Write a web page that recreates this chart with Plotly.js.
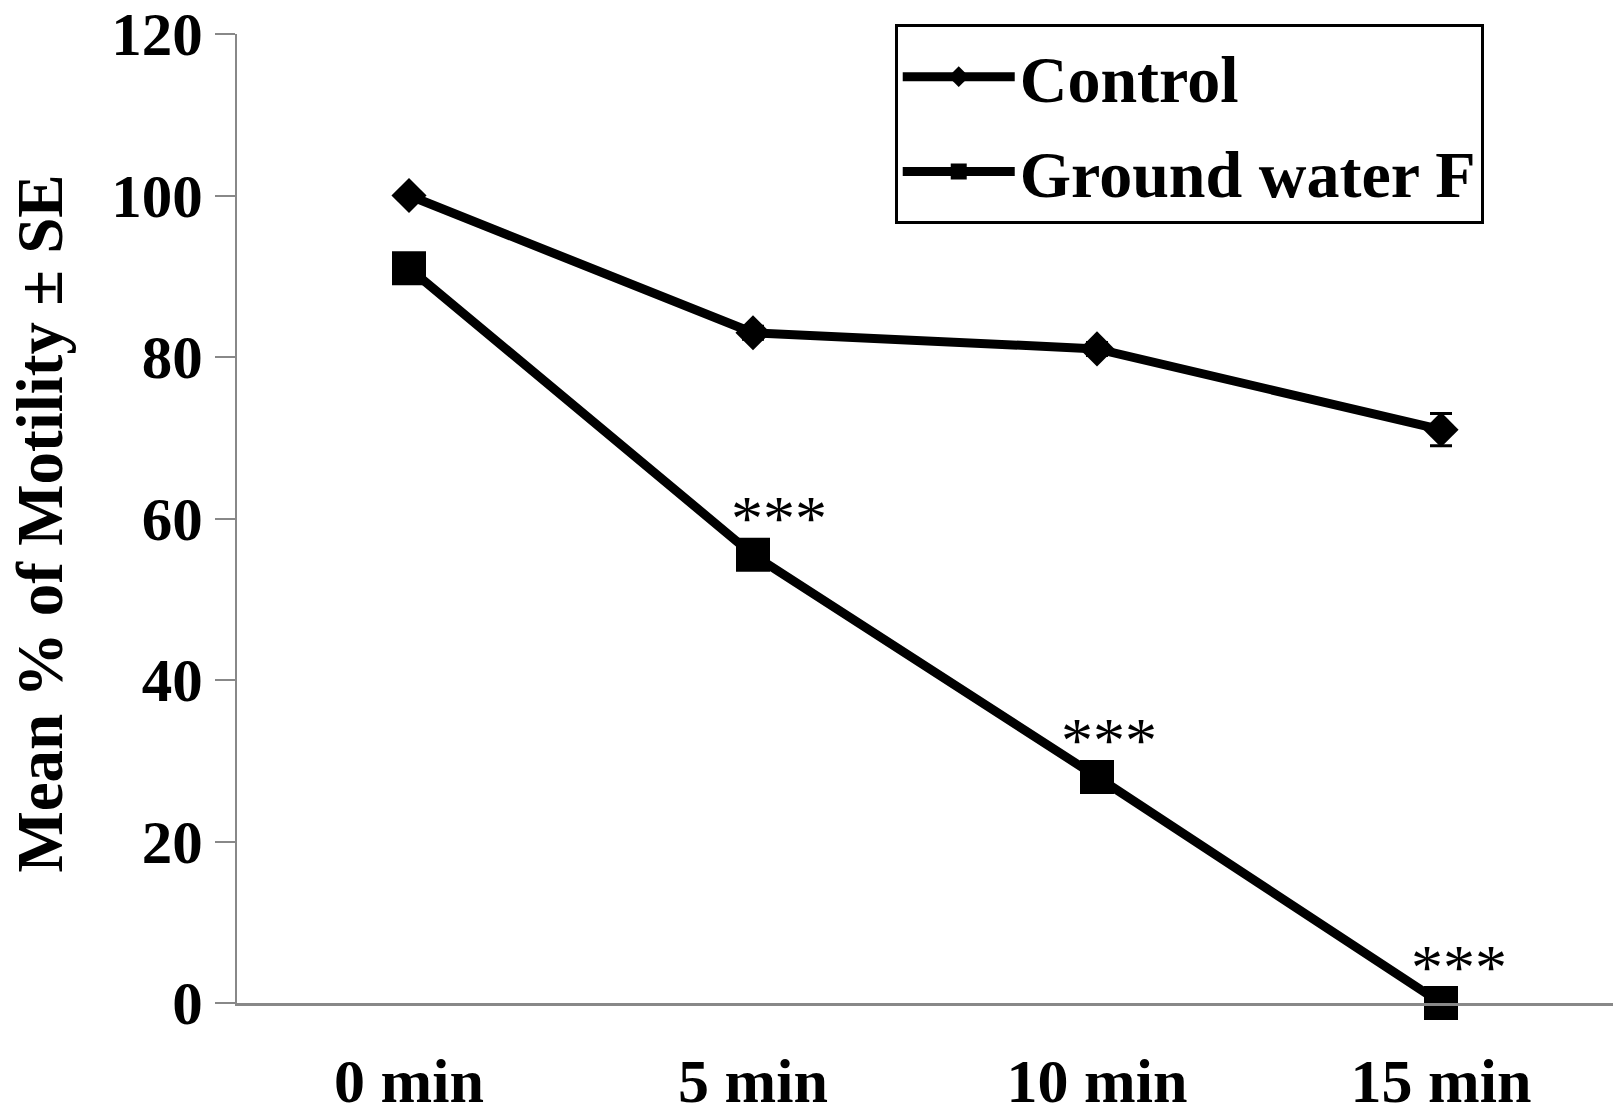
<!DOCTYPE html>
<html>
<head>
<meta charset="utf-8">
<script src="https://cdn.plot.ly/plotly-3.0.1.min.js"></script>
<style>
  html, body { margin: 0; padding: 0; background: #fff; }
  #chart { width: 1620px; height: 1114px; }
</style>
</head>
<body>
<div id="chart"></div>
<script>
// Sperm motility over time, control vs ground water F

const timePoints = ['0 min', '5 min', '10 min', '15 min'];
const controlMean = [100, 83, 81, 71];
const controlErr = [0.5, 0.8, 0.8, 2];
const groundMean = [91, 55.5, 28, 0];
const groundErr = [0.8, 0.8, 0.8, 0];
const groundSig = ['', '***', '***', '***'];
const yTicks = [0, 20, 40, 60, 80, 100, 120];

const serif = 'Liberation Serif, Times New Roman, serif';

const traces = [
    {
        x: timePoints,
        y: controlMean,
        name: 'Control',
        legendgroup: 'control',
        type: 'scatter',
        mode: 'lines+markers',
        line: { color: '#000', width: 9 },
        marker: { symbol: 'diamond', size: 27, color: '#000' },
        error_y: { type: 'data', array: controlErr, visible: true, color: '#000', thickness: 3, width: 11 },
        cliponaxis: false
    },
    {
        x: timePoints,
        y: groundMean,
        name: 'Ground water F',
        legendgroup: 'ground',
        type: 'scatter',
        mode: 'lines+markers',
        line: { color: '#000', width: 9 },
        marker: { symbol: 'square', size: 34, color: '#000' },
        error_y: { type: 'data', array: groundErr, visible: true, color: '#000', thickness: 3, width: 11 },
        cliponaxis: false
    }
];

// stars sit a little above and right of each square
const starShift = [0, 26, 12, 18];
const annotations = [];
groundSig.forEach((s, i) => {
    if (!s) return;
    annotations.push({
        x: timePoints[i],
        y: groundMean[i],
        text: s,
        showarrow: false,
        xshift: starShift[i],
        yshift: 36,
        font: { family: serif, size: 64, color: '#000' }
    });
});

// y title as an annotation so it can sit close to the left edge
annotations.push({
    xref: 'paper',
    yref: 'paper',
    x: -0.143,
    y: 0.495,
    xanchor: 'center',
    yanchor: 'middle',
    text: 'Mean % of Motility ± SE',
    textangle: -90,
    showarrow: false,
    font: { family: serif, size: 65, color: '#000', weight: 'bold' }
});

const layout = {
    width: 1620,
    height: 1114,
    margin: { l: 237, r: 7, t: 34, b: 111 },
    paper_bgcolor: '#fff',
    plot_bgcolor: '#fff',
    font: { family: serif, color: '#000' },
    showlegend: true,
    legend: {
        x: 0.478,
        y: 1.01,
        xanchor: 'left',
        yanchor: 'top',
        bordercolor: '#000',
        borderwidth: 3,
        bgcolor: '#fff',
        itemwidth: 112,
        tracegroupgap: 6,
        font: { family: serif, size: 66, color: '#000', weight: 'bold' }
    },
    xaxis: {
        type: 'category',
        range: [-0.5, 3.5],
        showline: true,
        linecolor: '#888',
        linewidth: 3,
        showgrid: false,
        zeroline: false,
        ticks: '',
        ticklabelstandoff: 22,
        tickfont: { family: serif, size: 62, color: '#000', weight: 'bold' },
        fixedrange: true
    },
    yaxis: {
        range: [0, 120],
        tickvals: yTicks,
        showline: true,
        linecolor: '#888',
        linewidth: 2,
        showgrid: false,
        zeroline: false,
        ticks: 'outside',
        ticklen: 20,
        tickwidth: 2,
        tickcolor: '#888',
        ticklabeloverflow: 'allow',
        tickfont: { family: serif, size: 61, color: '#000', weight: 'bold' },
        fixedrange: true
    },
    annotations: annotations
};

Plotly.newPlot('chart', traces, layout, { displayModeBar: false, staticPlot: true });
</script>
</body>
</html>
